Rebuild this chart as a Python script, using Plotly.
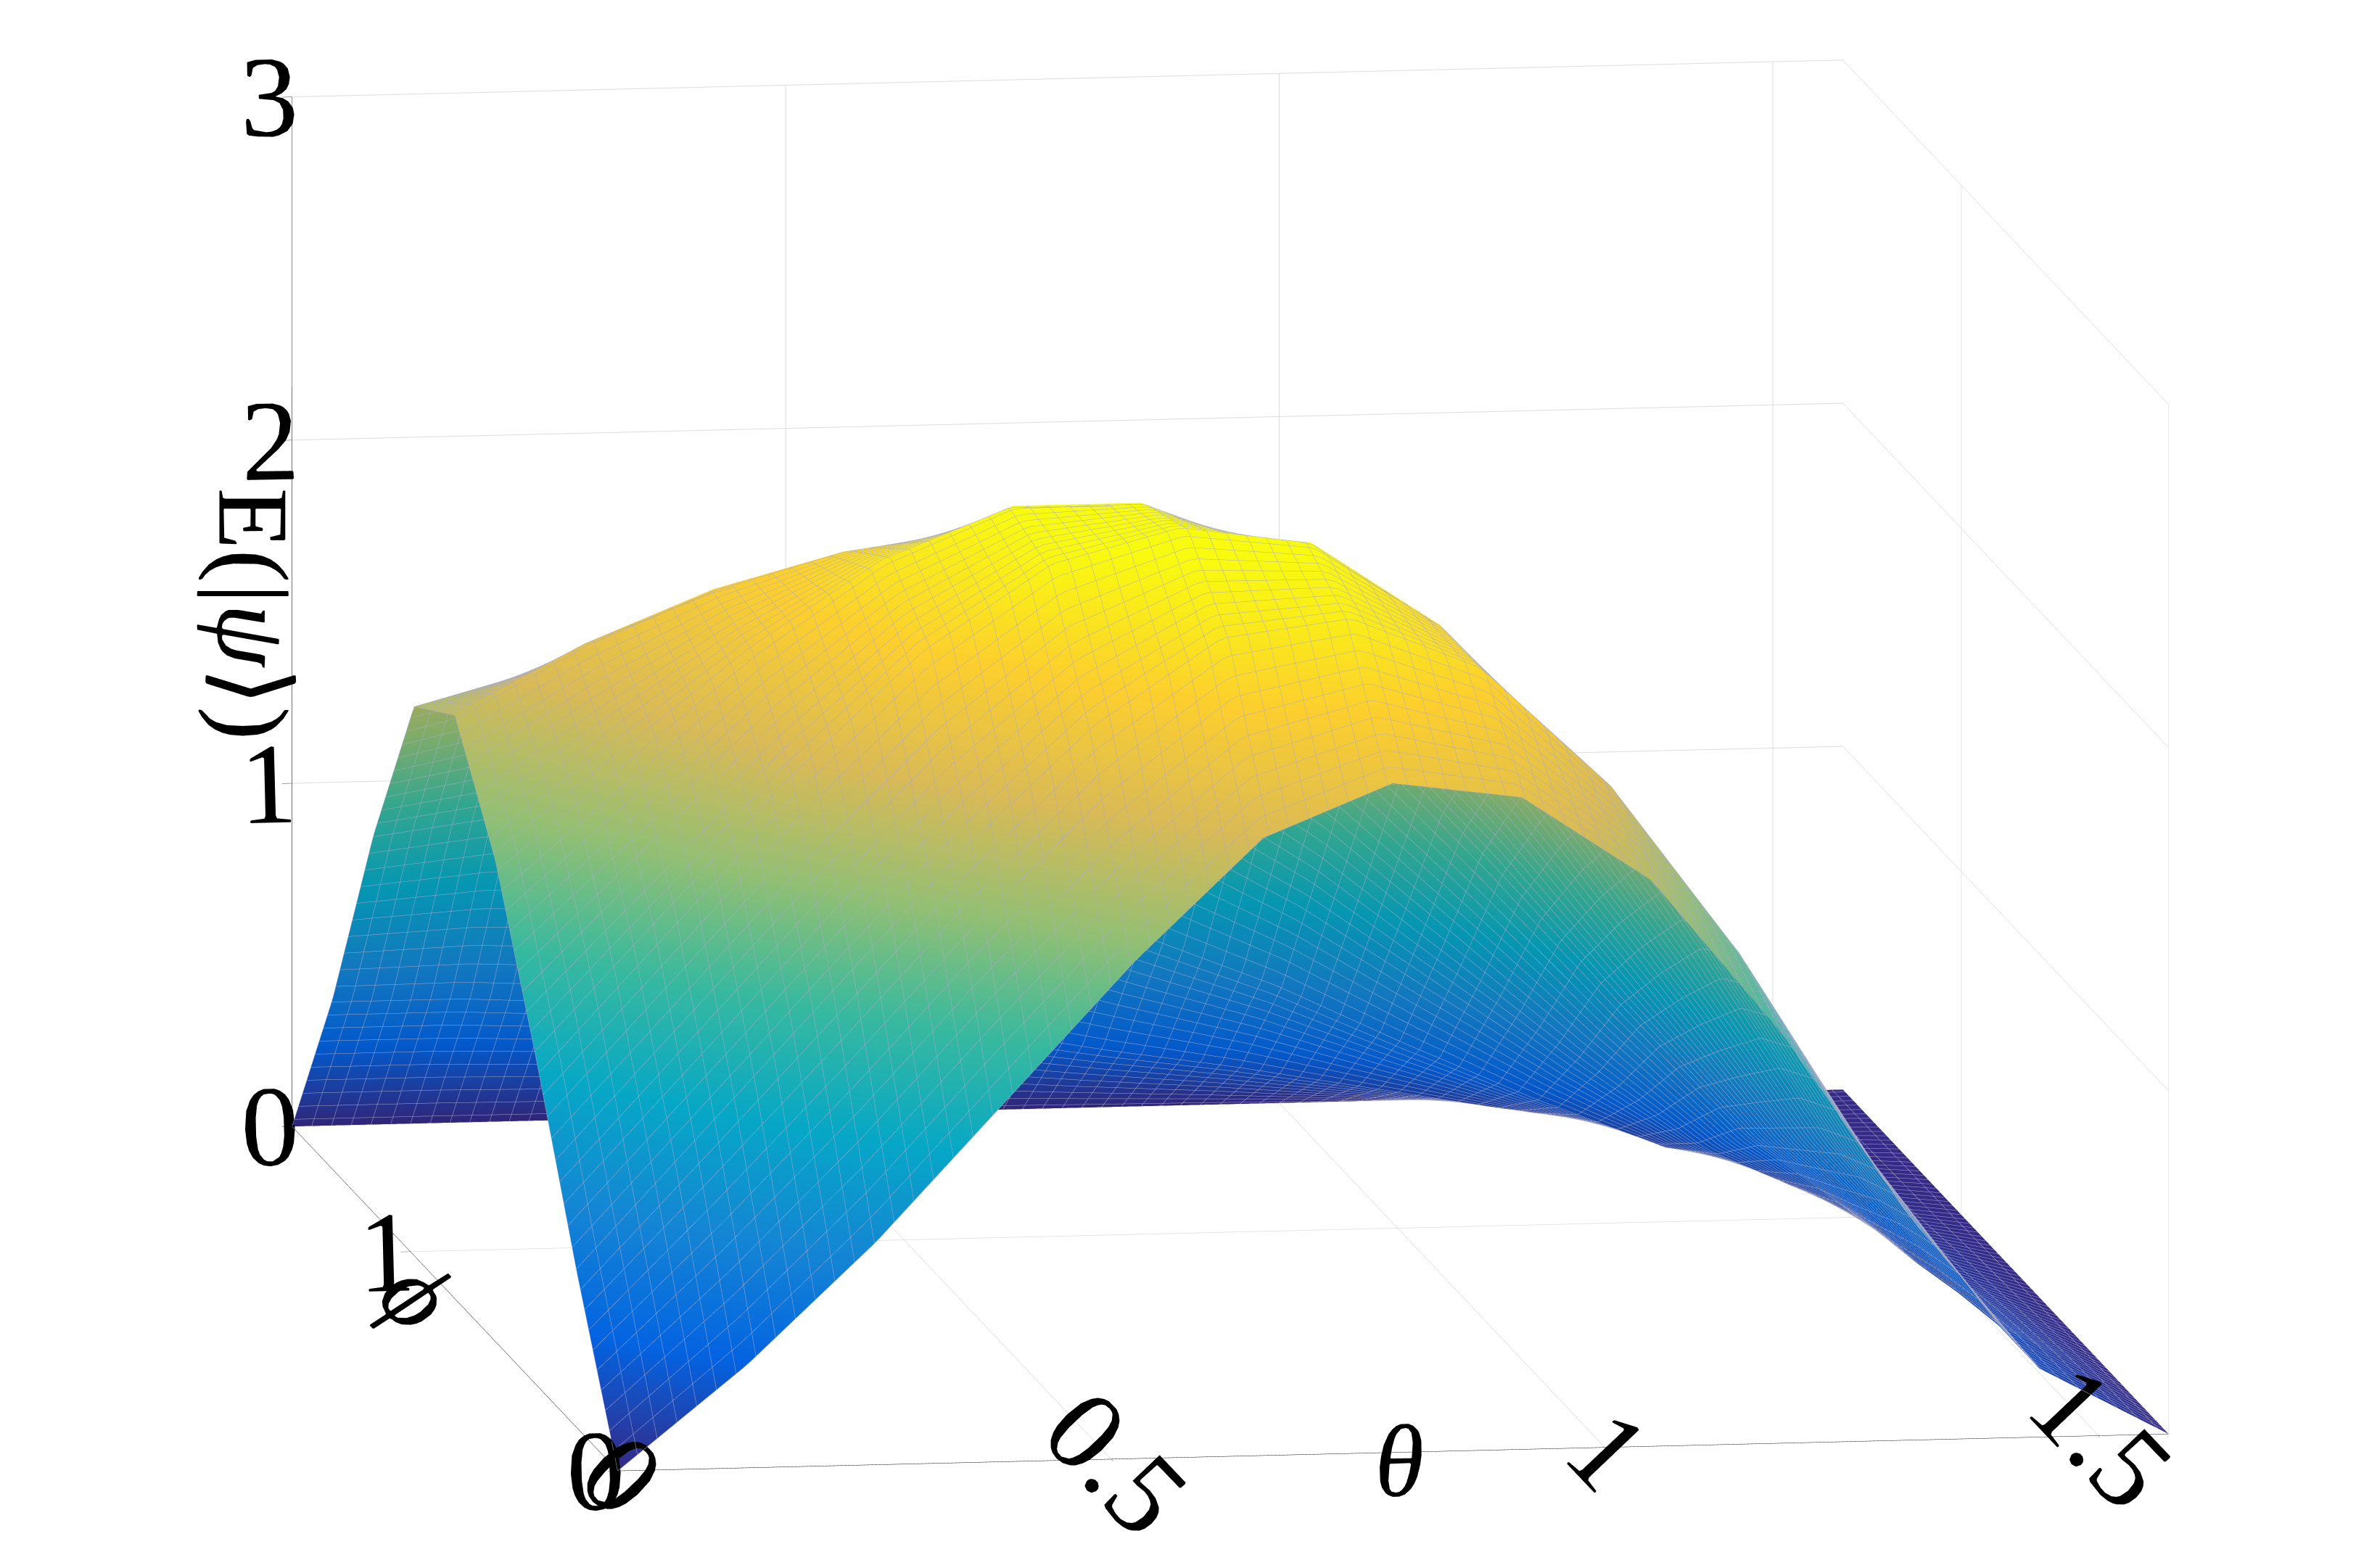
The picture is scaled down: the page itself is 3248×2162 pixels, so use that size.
import numpy as np
import plotly.graph_objects as go

# theta samples (x) and phi samples (y)
theta = [0.0, 0.131, 0.262, 0.393, 0.524, 0.654, 0.785, 0.916, 1.047, 1.178, 1.309, 1.440, 1.571]
phi = [0.0, 0.196, 0.393, 0.589, 0.785, 0.982, 1.178, 1.374, 1.571]
# E values, one row per phi value
z_phi_000 = [0.00, 0.30, 0.65, 1.05, 1.45, 1.80, 1.95, 1.90, 1.65, 1.20, 0.65, 0.20, 0.0]
z_phi_020 = [0.45, 0.85, 1.25, 1.65, 2.00, 2.25, 2.30, 2.15, 1.80, 1.30, 0.70, 0.20, 0.0]
z_phi_039 = [0.95, 1.35, 1.75, 2.10, 2.35, 2.45, 2.40, 2.15, 1.75, 1.20, 0.62, 0.17, 0.0]
z_phi_059 = [1.40, 1.70, 2.00, 2.25, 2.40, 2.40, 2.25, 1.95, 1.50, 1.00, 0.50, 0.13, 0.0]
z_phi_079 = [1.70, 1.90, 2.05, 2.15, 2.20, 2.10, 1.90, 1.60, 1.20, 0.78, 0.38, 0.10, 0.0]
z_phi_098 = [1.60, 1.70, 1.75, 1.75, 1.70, 1.55, 1.35, 1.10, 0.80, 0.50, 0.22, 0.05, 0.0]
z_phi_118 = [1.10, 1.15, 1.15, 1.10, 1.00, 0.90, 0.75, 0.60, 0.42, 0.25, 0.10, 0.03, 0.0]
z_phi_137 = [0.50, 0.50, 0.48, 0.45, 0.42, 0.37, 0.30, 0.24, 0.17, 0.10, 0.04, 0.01, 0.0]
z_phi_157 = [0.00, 0.00, 0.00, 0.00, 0.00, 0.00, 0.00, 0.00, 0.00, 0.00, 0.00, 0.00, 0.0]
Z = [z_phi_000, z_phi_020, z_phi_039, z_phi_059, z_phi_079, z_phi_098, z_phi_118, z_phi_137, z_phi_157]

parula = [[0.0, '#352a87'], [0.125, '#0363e1'], [0.25, '#1485d4'], [0.375, '#06a7c6'],
          [0.5, '#38b99e'], [0.625, '#92bf73'], [0.75, '#d9ba56'], [0.875, '#fcce2e'], [1.0, '#f9fb0e']]

fig = go.Figure(go.Surface(
    x=theta, y=phi, z=Z, colorscale=parula, cmin=0, cmax=2.4, showscale=False,
    lighting=dict(ambient=0.9, diffuse=0.3, specular=0.5, roughness=0.4),
    contours=dict(
        x=dict(show=True, start=0, end=1.571, size=0.02, color='rgba(30,30,60,0.45)', width=1),
        y=dict(show=True, start=0, end=1.571, size=0.02, color='rgba(30,30,60,0.45)', width=1),
    ),
))

tf = dict(family="Liberation Serif", size=44, color="black")
ttf = dict(family="Liberation Serif", size=140, color="black")
ax = dict(showbackground=False, gridcolor='#dddddd', linecolor='black', showline=True,
          tickfont=tf, ticks='outside', ticklen=14, zeroline=False, showspikes=False)
fig.update_layout(
    width=3248, height=2162, paper_bgcolor='white', margin=dict(l=0, r=0, t=0, b=0),
    scene=dict(
        xaxis=dict(ax, range=[0, 1.571], tickvals=[0, 0.5, 1, 1.5], ticktext=['0', '0.5', '1', '1.5'],
                   title=dict(text='<i>θ</i>', font=ttf)),
        yaxis=dict(ax, range=[0, 1.571], tickvals=[0, 1], ticktext=['0', '1'],
                   title=dict(text='<i>ϕ</i>', font=ttf)),
        zaxis=dict(ax, range=[0, 3], tickvals=[0, 1, 2, 3], ticktext=['0', '1', '2', '3'],
                   title=dict(text='E(|<i>ψ</i>⟩)', font=ttf)),
        aspectmode='manual', aspectratio=dict(x=2.0, y=2.8, z=1.33),
        camera=dict(eye=dict(x=-0.3, y=-1.6, z=0.23), center=dict(x=-0.06, y=0, z=-0.03),
                    projection=dict(type='orthographic')),
        domain=dict(x=[0, 1], y=[0, 1]),
    ),
)
fig.write_html("out.html")
